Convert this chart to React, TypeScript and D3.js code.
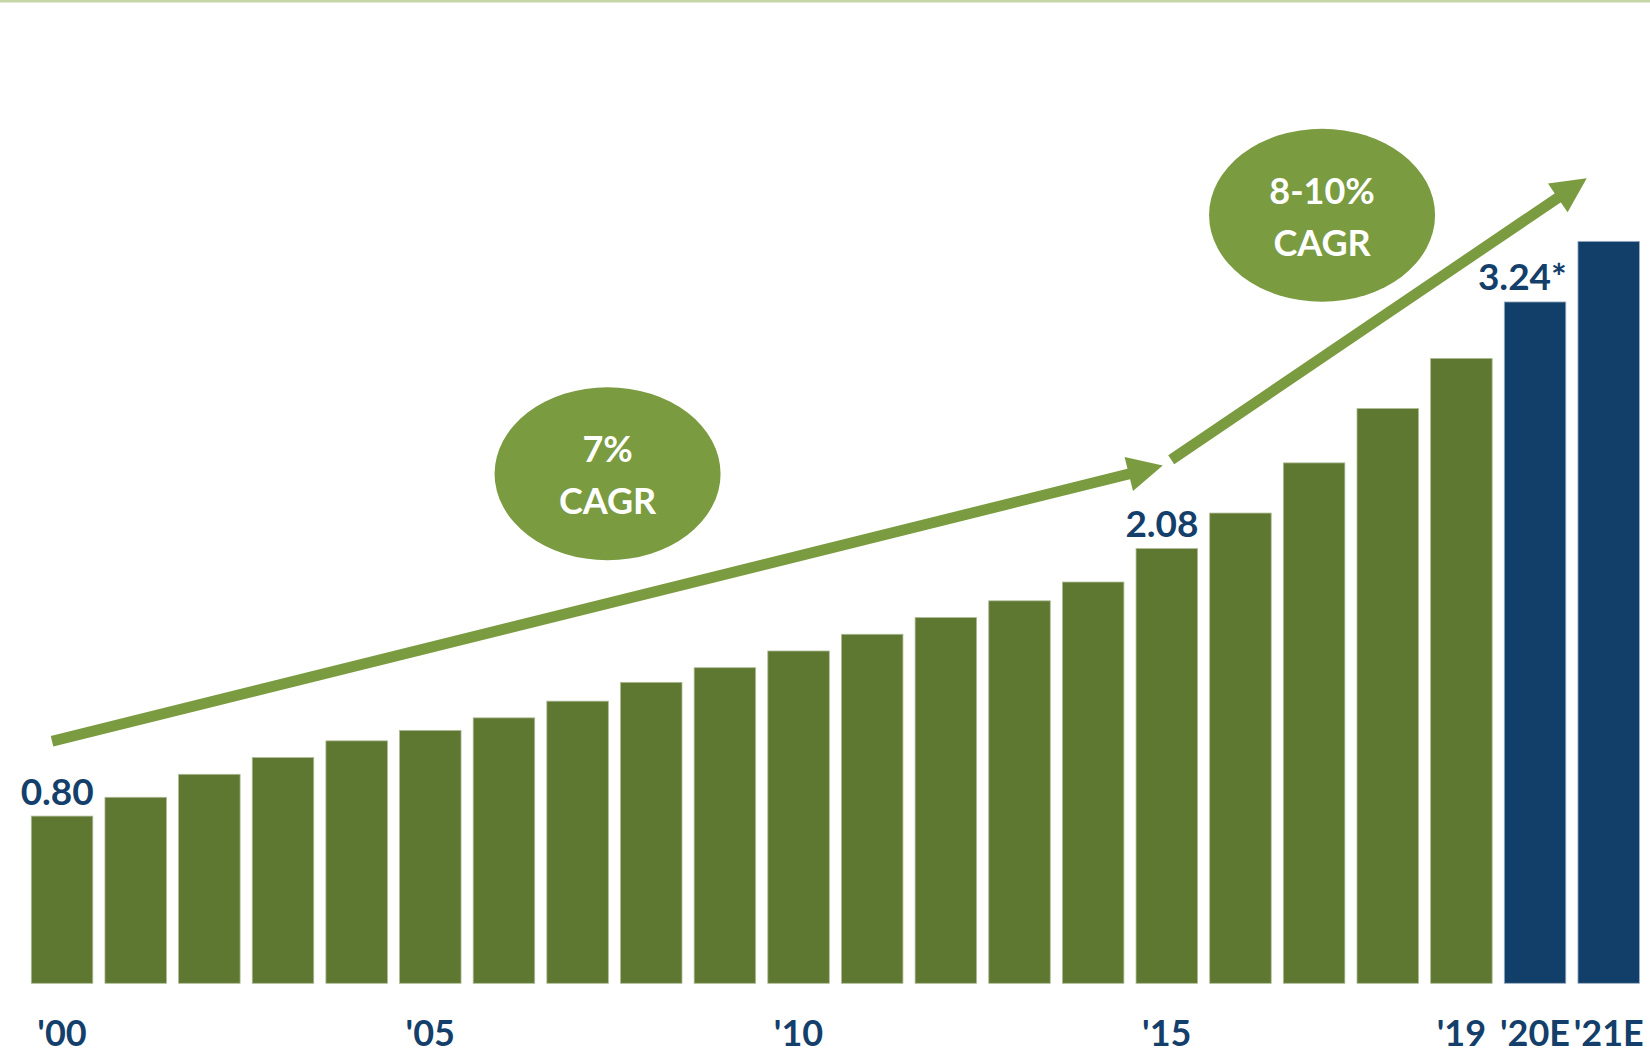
import React from "react";
import * as d3 from "d3";

const categories = ["'00","'01","'02","'03","'04","'05","'06","'07","'08","'09","'10","'11","'12","'13","'14","'15","'16","'17","'18","'19","'20E","'21E"];
const values = [0.80,0.89,1.00,1.08,1.16,1.21,1.27,1.35,1.44,1.51,1.59,1.67,1.75,1.83,1.92,2.08,2.25,2.49,2.75,2.99,3.26,3.55];
const estimateCats = ["'20E","'21E"];
const tickLabels = ["'00","'05","'10","'15","'19","'20E","'21E"];
const valueLabels = [
  { cat: "'00", text: "0.80" },
  { cat: "'15", text: "2.08" },
  { cat: "'20E", text: "3.24*" },
];
// arrows in (bar index, value) space
const arrows = [
  { from: [-0.136, 1.158], to: [14.945, 2.477] },
  { from: [15.06, 2.505], to: [20.702, 3.852] },
];
const bubbles = [
  { at: [7.407, 2.438], lines: ["7%", "CAGR"] },
  { at: [17.108, 3.675], lines: ["8-10%", "CAGR"] },
];

const W = 1650, H = 1056;
const GREEN = "#5e7731";
const BLUE = "#113f69";
const LIGHT = "#7a9b3f";
const TEXTBLUE = "#143f6b";
const FONT = "Lato, 'Open Sans', 'DejaVu Sans', sans-serif";

export default function App() {
  const x = d3.scaleBand<string>().domain(categories).range([31.3, 1639.45]).paddingInner(0.165).paddingOuter(0);
  const y = d3.scaleLinear().domain([0, 4]).range([983.3, 983.3 - 4 * 209]);
  const bw = x.bandwidth();
  const xi = d3.scaleLinear().domain([0, categories.length - 1]).range([x(categories[0])! + bw / 2, x(categories[categories.length - 1])! + bw / 2]);

  const headL = 35, headW = 35, sw = 10.8;

  return (
    <svg width={W} height={H} style={{ position: "absolute", left: 0, top: 0, background: "#fff" }}>
      <rect x={0} y={0} width={W} height={2.5} fill="#c4d5a6" />
      {categories.map((c, i) => {
        const isEst = estimateCats.includes(c);
        return (
          <rect key={c} x={x(c)} y={y(values[i])} width={bw} height={y(0) - y(values[i])}
            fill={isEst ? BLUE : GREEN} stroke={isEst ? "#9fb0c2" : "#aebb95"} strokeWidth={0.8} />
        );
      })}
      {valueLabels.map((l) => {
        const i = categories.indexOf(l.cat);
        return (
          <text key={l.cat} x={x(l.cat)! + bw + 1} y={y(values[i]) - 11.5} textAnchor="end"
            fontFamily={FONT} fontWeight={700} fontSize={37} fill={TEXTBLUE}>{l.text}</text>
        );
      })}
      {tickLabels.map((t) => (
        <text key={t} x={x(t)! + bw / 2} y={1046} textAnchor="middle" fontFamily={FONT}
          fontWeight={700} fontSize={36} fill={TEXTBLUE}>{t}</text>
      ))}
      {arrows.map((a, k) => {
        const x1 = xi(a.from[0]), y1 = y(a.from[1]);
        const x2 = xi(a.to[0]), y2 = y(a.to[1]);
        const dx = x2 - x1, dy = y2 - y1, len = Math.hypot(dx, dy);
        const ux = dx / len, uy = dy / len;
        const bx = x2 - ux * headL, by = y2 - uy * headL;
        const px = -uy, py = ux;
        const head = `M${x2},${y2}L${bx + px * headW / 2},${by + py * headW / 2}L${bx - px * headW / 2},${by - py * headW / 2}Z`;
        return (
          <g key={k}>
            <line x1={x1} y1={y1} x2={bx + ux * 2} y2={by + uy * 2} stroke={LIGHT} strokeWidth={sw} />
            <path d={head} fill={LIGHT} />
          </g>
        );
      })}
      {bubbles.map((b, k) => {
        const cx = xi(b.at[0]), cy = y(b.at[1]);
        return (
          <g key={k}>
            <ellipse cx={cx} cy={cy} rx={113} ry={86.5} fill={LIGHT} />
            <text x={cx} y={cy - 11.5} textAnchor="middle" fontFamily={FONT} fontWeight={700} fontSize={36} fill="#fff">{b.lines[0]}</text>
            <text x={cx} y={cy + 40.5} textAnchor="middle" fontFamily={FONT} fontWeight={700} fontSize={36} fill="#fff">{b.lines[1]}</text>
          </g>
        );
      })}
    </svg>
  );
}
